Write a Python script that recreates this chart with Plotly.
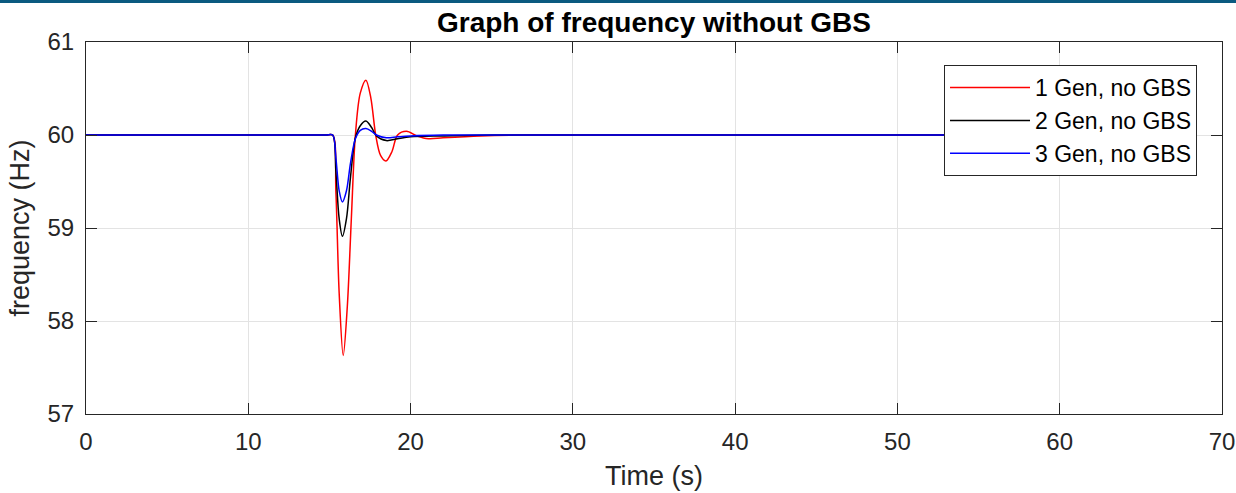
import plotly.graph_objects as go

# time (s) and frequency (Hz)
t_red = [0, 5, 10, 14, 14.8, 15.2, 15.4, 15.6, 15.85, 16.1, 16.35, 16.6, 16.9, 17.25, 17.55, 17.85,
         18.15, 18.48, 18.85, 19.2, 19.75, 20.4, 21.1, 22.0, 24.3, 27, 30, 40, 50, 60]
f_red = [60, 60, 60, 60, 60, 60, 59.38, 58.3, 57.63, 58.15, 59.1, 60.0, 60.45, 60.59, 60.4, 60.0,
         59.78, 59.72, 59.82, 60.0, 60.04, 59.99, 59.96, 59.97, 59.99, 60, 60, 60, 60, 60]

t_black = [0, 5, 10, 14, 14.8, 15.2, 15.4, 15.6, 15.8, 16.05, 16.3, 16.6, 16.9, 17.25, 17.6, 17.9,
           18.5, 19.2, 20.0, 22.0, 25, 30, 40, 50, 60]
f_black = [60, 60, 60, 60, 60, 60, 59.6, 59.1, 58.91, 59.1, 59.55, 59.97, 60.1, 60.15, 60.08, 59.99,
           59.94, 59.96, 59.98, 59.99, 60, 60, 60, 60, 60]

t_blue = [0, 5, 10, 14, 14.8, 15.2, 15.4, 15.6, 15.8, 16.05, 16.3, 16.6, 16.9, 17.25, 17.6, 17.9,
          18.5, 19.2, 20.0, 22.0, 25, 30, 40, 50, 60]
f_blue = [60, 60, 60, 60, 60, 60, 59.75, 59.4, 59.28, 59.4, 59.7, 59.96, 60.05, 60.07, 60.04, 60.0,
          59.97, 59.98, 59.99, 60, 60, 60, 60, 60, 60]

names = ["1 Gen, no GBS", "2 Gen, no GBS", "3 Gen, no GBS"]
colors = ["#ff0000", "#000000", "#0000ff"]

fig = go.Figure()
for t, f, name, c in zip([t_red, t_black, t_blue], [f_red, f_black, f_blue], names, colors):
    fig.add_trace(go.Scatter(x=t, y=f, mode="lines", name=name,
                             line=dict(color=c, width=1.5, shape="spline", smoothing=0.9)))

# dark band along the top edge of the page
fig.add_shape(type="rect", xref="paper", yref="paper", x0=-0.1, x1=1.1,
              y0=1 + 39 / 372, y1=1 + 43 / 372, fillcolor="#0b5a80", line=dict(width=0))

axis_common = dict(showline=True, linecolor="#262626", linewidth=1, mirror="ticks",
                   ticks="inside", ticklen=11, tickcolor="#262626", automargin=False,
                   showgrid=True, gridcolor="#e3e3e3", gridwidth=1, zeroline=False,
                   tickfont=dict(size=24, color="#262626"))

fig.update_layout(
    width=1236, height=493,
    margin=dict(l=86, r=14, t=42, b=79),
    plot_bgcolor="white", paper_bgcolor="white",
    font=dict(family="Liberation Sans, Arial, sans-serif", color="#262626"),
    title=dict(text="<b>Graph of frequency without GBS</b>", xref="paper", x=0.5, xanchor="center",
               y=0.955, yanchor="middle", font=dict(size=28, color="black"), automargin=False),
    xaxis=dict(range=[0, 70], dtick=10, ticklabelstandoff=6,
               title=dict(text="Time (s)", font=dict(size=27, color="#262626"), standoff=12),
               **axis_common),
    yaxis=dict(range=[57, 61], dtick=1, ticklabelstandoff=6,
               title=dict(text="frequency (Hz)", font=dict(size=27, color="#262626"), standoff=10),
               **axis_common),
    legend=dict(x=0.978, xanchor="right", y=0.938, yanchor="top",
                bgcolor="white", bordercolor="#262626", borderwidth=1,
                font=dict(size=23, color="black"), itemwidth=80, tracegroupgap=0),
    showlegend=True,
)

fig.write_html("out.html", config={"displayModeBar": False},
               post_script="document.body.style.margin='0px';")
